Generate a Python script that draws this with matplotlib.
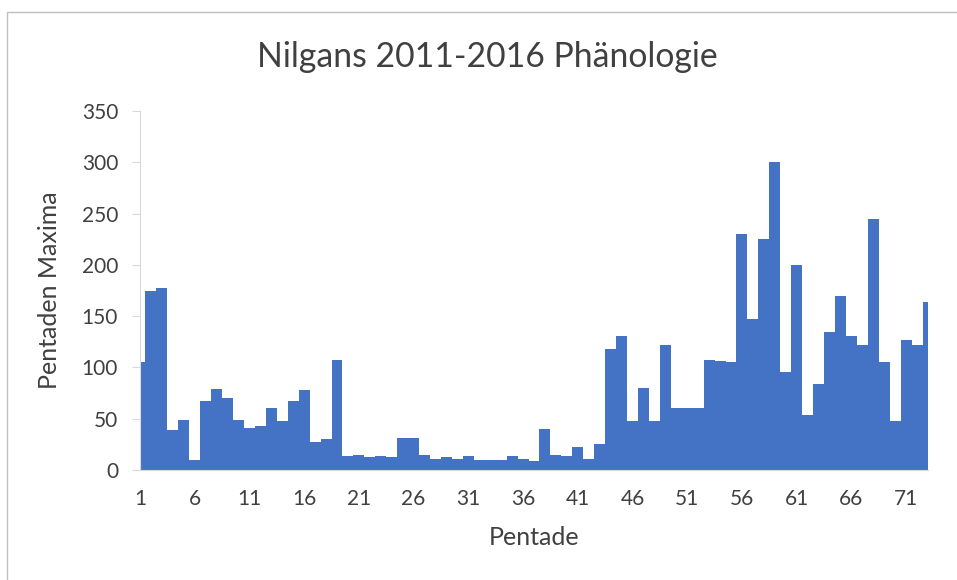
import numpy as np
import matplotlib.pyplot as plt
from matplotlib.patches import Rectangle

# Pentaden 1..73 und Maxima
pentade = np.arange(1, 74)
maxima = [105, 175, 177, 39, 49, 10, 67, 79, 70, 49,
          41, 43, 60, 48, 67, 78, 27, 30, 107, 14,
          15, 13, 14, 13, 31, 31, 15, 11, 13, 11,
          14, 10, 10, 10, 14, 11, 9, 40, 15, 14,
          22, 11, 25, 118, 131, 48, 80, 48, 122, 60,
          60, 60, 107, 106, 105, 230, 147, 225, 300, 96,
          200, 54, 84, 135, 170, 131, 122, 245, 105, 48,
          127, 122, 164]
tick_pos = list(range(1, 74, 5))
y_ticks = list(range(0, 351, 50))

plt.rcParams['font.family'] = ['Lato', 'DejaVu Sans']
txt = '#404040'

fig = plt.figure(figsize=(9.57, 5.8), dpi=100)
ax = fig.add_axes([140/957, 1 - 470/580, (928 - 140)/957, (470 - 111)/580])

ax.bar(pentade, maxima, width=1.0, color='#4472C4', edgecolor='none')
ax.set_xlim(1, 73)
ax.set_ylim(0, 350)

ax.set_xticks(tick_pos)
ax.set_xticklabels([str(t) for t in tick_pos])
ax.set_yticks(y_ticks)

for s in ['top', 'right']:
    ax.spines[s].set_visible(False)
ax.spines['left'].set_color('#D9D9D9')
ax.spines['bottom'].set_color('#D9D9D9')
ax.tick_params(axis='y', length=5.8, color='#D9D9D9', labelsize=15, labelcolor=txt, pad=10)
ax.tick_params(axis='x', length=0, labelsize=15, labelcolor=txt, pad=14)

ax.set_xlabel('Pentade', fontsize=18, color=txt, labelpad=12)
ax.set_ylabel('Pentaden Maxima', fontsize=18, color=txt, labelpad=15)
fig.text(487/957, 1 - 57/580, 'Nilgans 2011-2016 Phänologie', fontsize=24.3,
         color=txt, ha='center', va='center')

# Rahmen des Diagrammbereichs
fig.patches.append(Rectangle((7/957, -0.1), 1.1, 1 - 12/580 + 0.1,
                             transform=fig.transFigure, fill=False,
                             edgecolor='#BFBFBF', linewidth=1))

fig.savefig('out.png', dpi=100)
